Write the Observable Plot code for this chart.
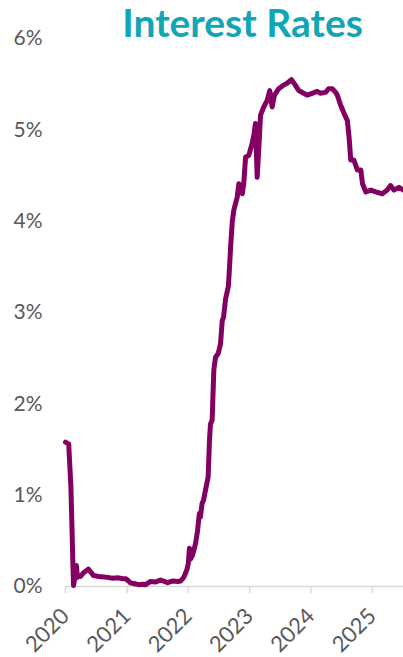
<!DOCTYPE html>
<html>
<head>
<meta charset="utf-8">
<script src="https://cdn.jsdelivr.net/npm/d3@7"></script>
<script src="https://cdn.jsdelivr.net/npm/@observablehq/plot@0.6"></script>
<style>
  html, body { margin: 0; padding: 0; background: #fff; }
  #chart svg { display: block; }
</style>
</head>
<body>
<div id="chart"></div>
<script>
const title = "Interest Rates";
const dates = [
  "2020-01-01","2020-01-10","2020-01-20","2020-02-02","2020-02-09","2020-02-14","2020-02-18","2020-02-26",
  "2020-03-06","2020-03-12","2020-03-18","2020-03-30","2020-04-17","2020-05-17","2020-05-29","2020-06-16",
  "2020-07-16","2020-08-15","2020-09-08","2020-10-08","2020-11-07","2020-12-07","2020-12-25",
  "2021-01-10","2021-01-22","2021-02-15","2021-03-11","2021-04-04","2021-04-22","2021-05-22","2021-06-21",
  "2021-07-20","2021-08-07","2021-08-31","2021-09-18","2021-10-06","2021-10-30","2021-11-17","2021-12-05",
  "2021-12-23","2022-01-01","2022-01-08","2022-01-14","2022-01-26","2022-02-13","2022-02-25","2022-03-08",
  "2022-03-14","2022-03-24","2022-04-01","2022-04-13","2022-04-29","2022-05-07","2022-05-13","2022-05-23",
  "2022-05-28","2022-06-02","2022-06-12","2022-06-28","2022-07-12","2022-07-22","2022-07-30","2022-08-11",
  "2022-08-27","2022-08-31","2022-09-10","2022-09-20","2022-09-29","2022-10-19","2022-10-29","2022-11-18",
  "2022-11-27","2022-12-08","2022-12-27","2023-01-16","2023-01-27","2023-02-05","2023-02-15","2023-02-25",
  "2023-03-07","2023-03-26","2023-04-15","2023-05-01","2023-05-15","2023-05-29","2023-06-23","2023-07-23",
  "2023-08-12","2023-09-07","2023-09-30","2023-10-20","2023-11-19","2023-12-09","2024-01-08","2024-02-07",
  "2024-02-27","2024-03-28","2024-04-15","2024-05-07","2024-05-27","2024-06-06","2024-06-26","2024-07-14",
  "2024-08-05","2024-08-15","2024-08-25","2024-09-12","2024-10-04","2024-10-24","2024-11-03","2024-11-23",
  "2024-12-23","2025-01-20","2025-03-01","2025-03-30","2025-04-19","2025-05-09","2025-06-08","2025-07-05"
];
const rates = [
  1.58,1.57,1.56,1.10,0.61,0.25,0.01,0.10,
  0.23,0.10,0.12,0.11,0.15,0.19,0.16,0.12,
  0.11,0.105,0.10,0.09,0.095,0.085,0.085,
  0.06,0.04,0.03,0.02,0.025,0.02,0.055,0.05,
  0.07,0.06,0.04,0.055,0.06,0.055,0.06,0.10,
  0.18,0.25,0.42,0.30,0.34,0.47,0.61,0.80,
  0.76,0.91,0.94,1.05,1.20,1.60,1.78,1.82,
  2.10,2.37,2.51,2.55,2.66,2.91,2.95,3.15,
  3.28,3.39,3.72,4.00,4.12,4.26,4.41,4.30,
  4.41,4.70,4.72,4.85,4.95,5.07,4.48,4.81,
  5.16,5.25,5.32,5.43,5.25,5.38,5.45,5.49,
  5.51,5.55,5.49,5.43,5.40,5.38,5.40,5.42,
  5.40,5.41,5.45,5.45,5.41,5.38,5.27,5.19,
  5.10,4.92,4.67,4.67,4.56,4.56,4.41,4.32,
  4.34,4.32,4.30,4.34,4.39,4.34,4.37,4.34
];
const yTicks = [0, 1, 2, 3, 4, 5, 6];
const xStart = "2020-01-01";
const xEnd = "2025-07-05";

const data = dates.map((d, i) => ({date: new Date(d), rate: rates[i]}));

const chart = Plot.plot({
  width: 403,
  height: 657,
  marginLeft: 65,
  marginRight: 0,
  marginTop: 38,
  marginBottom: 71,
  style: {fontFamily: "Lato, sans-serif", background: "#fff", overflow: "visible"},
  x: {type: "utc", domain: [new Date(xStart), new Date(xEnd)]},
  y: {domain: [0, 6]},
  marks: [
    Plot.ruleY([0], {stroke: "#d9d9d9", strokeWidth: 1.5}),
    Plot.axisX({
      ticks: d3.utcYear.every(1),
      tickFormat: d3.utcFormat("%Y"),
      tickRotate: -45,
      tickSize: 7,
      tickPadding: 19,
      stroke: "#d9d9d9",
      strokeWidth: 1.5,
      fill: "#595959",
      fontSize: 22,
      label: null
    }),
    Plot.axisY({
      ticks: yTicks,
      tickFormat: d => d + "%",
      tickSize: 0,
      tickPadding: 0,
      textAnchor: "start",
      dx: -52,
      fill: "#595959",
      fontSize: 21,
      label: null
    }),
    Plot.line(data, {x: "date", y: "rate", stroke: "#830062", strokeWidth: 5, strokeLinejoin: "round", strokeLinecap: "round"}),
    Plot.text([title], {
      frameAnchor: "top",
      text: d => d,
      dx: 8,
      dy: -2,
      lineAnchor: "bottom",
      fontSize: 39,
      fontWeight: "bold",
      fill: "#12a5b5"
    })
  ]
});
document.getElementById("chart").appendChild(chart);
</script>
</body>
</html>
